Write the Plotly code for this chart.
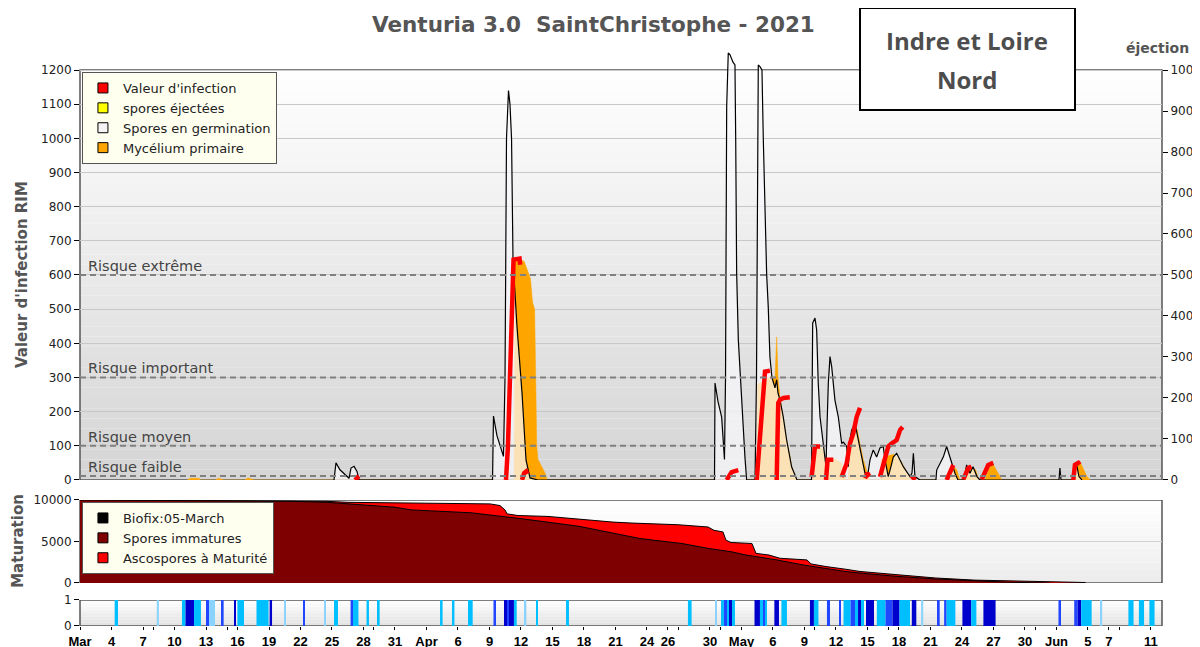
import pandas as pd
import plotly.graph_objects as go

START = pd.Timestamp("2021-03-01")

# ---- RIM panel: x = days after 1 March ----
germ_day = [24.19, 24.38, 24.76, 25.33, 25.62, 25.81, 26.10, 26.38, 26.57,
            39.29, 39.38, 39.71, 40.10, 40.33, 40.48, 40.62, 40.81, 40.95, 41.10, 41.24,
            41.62, 42.10, 42.48, 42.86, 43.62,
            60.43, 60.48, 60.76, 61.11, 61.24, 61.38, 61.48, 61.59, 61.74, 61.90, 62.19,
            62.38, 62.45, 62.54, 62.70, 63.02, 63.33, 63.49,
            64.29, 64.43, 64.52, 64.60, 64.76, 64.95, 65.08, 65.24, 65.40, 65.55, 65.71,
            65.90, 66.19, 66.35, 66.48, 66.67, 66.98, 67.30, 67.62, 67.78, 68.29,
            69.67, 69.78, 70.00, 70.16, 70.31, 70.48, 70.79, 71.05, 71.14, 71.27, 71.43,
            71.59, 71.90, 72.22, 72.54, 72.70, 73.02, 73.17, 73.33, 73.49, 73.81, 74.12,
            74.45, 74.76, 75.05, 75.24, 75.55, 75.87, 76.19, 76.50, 76.67, 76.98, 77.24,
            77.46, 77.78, 78.10, 78.41, 79.05, 79.24, 79.37, 79.52, 80.00,
            81.52, 81.59, 82.22, 82.54, 82.86, 83.33, 83.62,
            84.19, 84.44, 84.76, 85.05, 85.43, 85.71,
            93.24, 93.33, 93.43, 94.67, 94.76, 94.95, 95.14, 95.43]
germ_val = [0, 50, 30, 12, 5, 35, 40, 25, 0,
            0, 187, 130, 90, 69, 300, 1000, 1140, 1100, 1000, 644,
            449, 254, 58, 6, 0,
            0, 284, 230, 184, 117, 60, 300, 1092, 1250, 1245, 1223,
            1215, 995, 606, 410, 214, 67, 0,
            0, 300, 1000, 1215, 1210, 1200, 995, 800, 600, 506, 360,
            300, 270, 293, 254, 234, 184, 117, 70, 38, 0,
            0, 459, 474, 439, 283, 185, 98, 39, 150, 283, 361,
            332, 234, 185, 107, 111, 98, 39, 117, 146, 166, 117,
            67, 20, 20, 59, 88, 67, 94, 98, 59, 10, 40,
            67, 78, 59, 39, 10, 20, 78, 10, 0,
            0, 29, 67, 98, 67, 20, 0,
            0, 44, 20, 39, 10, 0,
            0, 35, 0, 0, 50, 40, 10, 0]

myc_day = [10.2, 10.5, 11.3, 11.5, 12.9, 13.2, 13.7, 15.7, 16.0, 16.6,
           41.35, 41.43, 41.62, 41.75, 41.90, 42.30, 42.90, 43.10, 43.30, 43.40, 43.50,
           43.62, 44.30, 44.50,
           64.48, 64.52, 65.70, 66.20, 66.35, 66.48, 66.67, 66.98, 67.30, 67.62, 67.78, 68.29,
           69.70, 69.80, 70.40, 70.80, 71.05, 71.10, 72.00, 72.50, 72.80, 73.00,
           73.17, 73.20, 73.49, 74.00, 74.60, 75.10, 75.20,
           76.20, 76.30, 76.90, 77.50, 78.20, 78.60, 79.00, 79.10,
           82.90, 83.20, 83.50, 83.80, 84.20, 84.80, 85.30, 85.60,
           86.20, 86.50, 86.90, 87.40, 87.80, 94.55, 94.80, 95.30, 95.90, 96.20]
myc_val = [0, 5, 5, 0, 0, 5, 0, 0, 6, 0,
           0, 640, 650, 630, 645, 640, 590, 520, 500, 300, 100,
           60, 20, 0,
           0, 280, 300, 300, 419, 300, 240, 184, 117, 70, 38, 0,
           0, 95, 100, 90, 30, 60, 60, 50, 20, 0,
           0, 39, 140, 150, 60, 5, 0,
           0, 60, 70, 75, 55, 30, 5, 0,
           0, 40, 30, 0, 0, 40, 30, 0,
           0, 30, 50, 20, 0, 0, 45, 50, 10, 0]

inf_day = [26.2, 26.4, 26.55, None,
           40.57, 40.76, 40.95, 41.14, 41.29, 41.86, 41.92, None,
           42.1, 42.3, 42.5, 42.62, None,
           61.59, 62.06, 62.70, None,
           64.45, 64.60, 64.90, 65.08, 65.24, 65.71, None,
           66.35, 66.45, 66.50, 66.67, 67.00, 67.60, None,
           69.68, 70.00, 70.48, None,
           71.05, 71.20, 71.75, None,
           72.54, 73.02, 73.33, 73.65, 73.97, 74.29, None,
           74.76, 75.00, 75.20, None,
           76.19, 76.67, 76.98, 77.30, 77.78, 78.10, 78.35, None,
           79.20, 79.55, None,
           82.54, 83.00, 83.17, None,
           84.13, 84.60, 84.90, None,
           85.88, 86.50, 86.98, None,
           94.60, 94.76, 95.08, 95.20]
inf_val = [0, 10, 12, None,
           0, 100, 300, 500, 645, 648, 630, None,
           0, 20, 25, 18, None,
           0, 23, 29, None,
           0, 60, 200, 283, 317, 320, None,
           0, 150, 225, 235, 240, 242, None,
           9, 98, 98, None,
           0, 59, 59, None,
           9, 49, 107, 137, 185, 211, None,
           5, 20, 10, None,
           9, 59, 98, 107, 117, 146, 155, None,
           12, 0, None,
           0, 39, 44, None,
           2, 35, 39, None,
           2, 44, 50, None,
           0, 44, 50, 45]

risk_levels = [600, 300, 100, 12]
risk_labels = ["Risque extrême", "Risque important", "Risque moyen", "Risque faible"]

# ---- maturation panel ----
total_day = [0, 23.52, 25.52, 34.76, 38.10, 39.05, 40.00, 40.48, 40.67, 41.71, 44.57,
             46.95, 48.95, 50.76, 52.57, 54.00, 56.95, 59.81, 60.38, 61.24, 61.52, 62.00,
             64.00, 64.38, 65.62, 66.67, 69.24, 69.62, 71.05, 72.86, 74.29, 77.90, 81.52,
             85.14, 86.67, 88.76, 92.38, 95.71, 95.80]
total_val = [10000, 9840, 9720, 9640, 9600, 9530, 9330, 8800, 8330, 8130, 8020,
             7740, 7540, 7340, 7220, 7140, 7020, 6750, 6350, 6150, 5160, 4880,
             4760, 3570, 3370, 2980, 2780, 2300, 1980, 1670, 1390, 990, 600,
             350, 320, 200, 120, 60, 0]
immat_day = [0, 20.29, 23.52, 25.71, 27.90, 30.00, 31.52, 34.76, 37.24, 38.10, 39.05,
             40.00, 41.71, 43.52, 45.71, 47.52, 49.33, 50.76, 53.33, 55.14, 57.33, 59.81,
             62.00, 63.43, 64.57, 66.38, 68.86, 70.67, 72.86, 75.05, 77.90, 81.52, 85.14,
             88.76, 92.38]
immat_val = [10000, 9840, 9720, 9530, 9330, 9130, 8810, 8660, 8460, 8330, 8220,
             8050, 7800, 7460, 7140, 6830, 6350, 6030, 5360, 5080, 4760, 4170,
             3770, 3370, 3170, 2780, 2180, 1790, 1390, 1110, 790, 480, 240,
             80, 0]

# ---- wetness periods (start, end in days, intensity 0..3) ----
wet_start = [3.30, 7.31, 9.71, 10.05, 10.86, 12.00, 12.29, 13.52, 14.67, 14.99, 16.81,
             18.06, 19.43, 21.24, 23.33, 24.19, 25.77, 26.00, 27.29, 28.38, 34.29, 35.43,
             36.95, 39.38, 40.38, 40.67, 40.86, 41.33, 42.34, 43.43, 46.29,
             57.90, 60.48, 61.05, 61.33, 61.62, 61.81, 62.10, 64.24, 64.76, 65.05, 65.24,
             66.13, 66.80, 69.52, 69.90, 71.14, 72.29, 72.72, 73.39, 73.81, 74.10, 74.38,
             74.86, 75.89, 76.72, 77.38, 78.05, 79.22, 80.11, 81.71, 82.30, 82.54, 84.04,
             84.87, 86.04, 93.19, 94.69, 95.02, 95.35, 97.18, 99.85, 100.85, 101.85]
wet_end = [3.62, 7.51, 10.05, 10.86, 11.52, 12.29, 12.86, 13.68, 14.83, 15.62, 17.96,
           18.29, 19.62, 21.43, 23.43, 24.57, 26.00, 26.52, 27.52, 28.54, 34.53, 35.66,
           37.40, 39.62, 40.67, 40.86, 41.33, 41.59, 42.51, 43.62, 46.57,
           58.25, 60.61, 61.33, 61.62, 61.81, 62.10, 62.38, 64.76, 65.05, 65.24, 65.43,
           66.57, 67.33, 69.90, 70.33, 71.43, 72.48, 73.39, 73.81, 74.10, 74.38, 74.67,
           75.62, 76.72, 77.38, 78.05, 79.05, 79.65, 80.31, 81.88, 82.54, 83.37, 84.87,
           85.37, 87.20, 93.43, 95.02, 95.35, 96.35, 97.35, 100.34, 101.34, 102.34]
wet_level = [1, 0, 1, 3, 1, 2, 0, 2, 3, 1, 1,
             3, 0, 2, 0, 1, 2, 1, 1, 1, 1, 1,
             1, 2, 3, 2, 3, 1, 0, 1, 1,
             1, 0, 1, 2, 1, 3, 1, 3, 1, 2, 1,
             3, 1, 3, 1, 2, 2, 1, 2, 1, 3, 1,
             3, 1, 2, 3, 1, 3, 0, 2, 2, 1, 3,
             1, 3, 2, 2, 3, 1, 0, 1, 1, 1]

tick_dates = ["2021-03-01", "2021-03-04", "2021-03-07", "2021-03-10", "2021-03-13",
              "2021-03-16", "2021-03-19", "2021-03-22", "2021-03-25", "2021-03-28",
              "2021-03-31", "2021-04-03", "2021-04-06", "2021-04-09", "2021-04-12",
              "2021-04-15", "2021-04-18", "2021-04-21", "2021-04-24", "2021-04-26",
              "2021-04-30", "2021-05-03", "2021-05-06", "2021-05-09", "2021-05-12",
              "2021-05-15", "2021-05-18", "2021-05-21", "2021-05-24", "2021-05-27",
              "2021-05-30", "2021-06-02", "2021-06-05", "2021-06-07", "2021-06-11"]
tick_text = ["Mar", "4", "7", "10", "13", "16", "19", "22", "25", "28", "31", "Apr",
             "6", "9", "12", "15", "18", "21", "24", "26", "30", "May", "6", "9", "12",
             "15", "18", "21", "24", "27", "30", "Jun", "5", "7", "11"]
minor_dates = ["2021-03-08", "2021-03-15", "2021-03-29", "2021-04-27", "2021-05-01",
               "2021-05-10", "2021-05-17", "2021-05-31", "2021-06-08"]


def to_dates(days):
    return [None if d is None else START + pd.Timedelta(days=d) for d in days]


FONT = "Liberation Sans, Arial, sans-serif"
DV = "DejaVu Sans"
fig = go.Figure()

# RIM panel
fig.add_trace(go.Scatter(x=to_dates(myc_day), y=myc_val, mode="lines", fill="tozeroy",
                         fillcolor="#FFA500", line=dict(color="#FFA500", width=0.5),
                         showlegend=False, hoverinfo="skip"))
fig.add_trace(go.Scatter(x=to_dates(germ_day), y=germ_val, mode="lines", fill="tozeroy",
                         fillcolor="rgba(248,248,252,0.72)",
                         line=dict(color="black", width=1.2), showlegend=False))
fig.add_trace(go.Scatter(x=to_dates(inf_day), y=inf_val, mode="lines",
                         line=dict(color="#FF0000", width=4.5), connectgaps=False,
                         showlegend=False))
fig.add_trace(go.Scatter(x=[None], y=[None], yaxis="y2", showlegend=False))

legend1 = [("Valeur d'infection", "#FF0000"), ("spores éjectées", "#FFFF00"),
           ("Spores en germination", "#F4F4F4"), ("Mycélium primaire", "#FFA500")]
for name, col in legend1:
    fig.add_trace(go.Scatter(x=[None], y=[None], mode="markers", name=name, legend="legend",
                             marker=dict(symbol="square", size=10, color=col,
                                         line=dict(color="black", width=1))))

# maturation panel
fig.add_trace(go.Scatter(x=to_dates(total_day), y=total_val, mode="lines", fill="tozeroy",
                         fillcolor="#FF0000", line=dict(color="black", width=1),
                         yaxis="y3", showlegend=False))
fig.add_trace(go.Scatter(x=to_dates(immat_day), y=immat_val, mode="lines", fill="tozeroy",
                         fillcolor="#7F0000", line=dict(color="black", width=1),
                         yaxis="y3", showlegend=False))
legend2 = [("Biofix:05-March", "#000000"), ("Spores immatures", "#7F0000"),
           ("Ascospores à Maturité", "#FF0000")]
for name, col in legend2:
    fig.add_trace(go.Scatter(x=[None], y=[None], mode="markers", name=name, legend="legend2",
                             yaxis="y3",
                             marker=dict(symbol="square", size=10, color=col,
                                         line=dict(color="black", width=1))))

# wetness panel
level_colors = {0: "#8AD3FF", 1: "#00BFFF", 2: "#2046FF", 3: "#0000CD"}
centers = [START + pd.Timedelta(days=(s + e) / 2) for s, e in zip(wet_start, wet_end)]
widths = [(e - s) * 86400000 for s, e in zip(wet_start, wet_end)]
fig.add_trace(go.Bar(x=centers, y=[1] * len(centers), width=widths,
                     marker=dict(color=[level_colors[l] for l in wet_level], line_width=0),
                     yaxis="y4", showlegend=False))

# background gradients and frames
shapes = []


def gradient(yref, y0, y1, top, bottom, n):
    for i in range(n):
        t = (i + 0.5) / n
        c = int(round(bottom + (top - bottom) * t))
        shapes.append(dict(type="rect", xref="x domain", yref=yref, x0=0, x1=1,
                           y0=y0 + (y1 - y0) * i / n, y1=y0 + (y1 - y0) * (i + 1) / n,
                           fillcolor=f"rgb({c},{c},{c})", line_width=0, layer="below"))


gradient("y", 0, 1200, 255, 212, 40)
gradient("y3", 0, 10000, 255, 236, 12)
gradient("y4", 0, 1, 255, 225, 8)
for yref, y1 in [("y", 1200), ("y3", 10000), ("y4", 1)]:
    shapes.append(dict(type="rect", xref="x domain", yref=yref, x0=0, x1=1, y0=0, y1=y1,
                       line=dict(color="#555555", width=1.5), layer="below"))
for lvl in risk_levels:
    shapes.append(dict(type="line", xref="x domain", yref="y", x0=0, x1=1, y0=lvl, y1=lvl,
                       line=dict(color="#808080", width=2, dash="6px,4px"), layer="above"))
# location box
shapes.append(dict(type="rect", xref="paper", yref="paper", x0=0.7209, x1=0.9196,
                   y0=0.8805, y1=1.0546, fillcolor="white",
                   line=dict(color="black", width=2), layer="above"))


def note(text, x, y, size, color="#555555", family=DV, **kw):
    return dict(text=text, xref="paper", yref="paper", x=x, y=y, showarrow=False,
                xanchor="center", yanchor="middle",
                font=dict(family=family, size=size, color=color, weight="bold"), **kw)


annotations = [
    note("Venturia 3.0\u00a0\u00a0SaintChristophe - 2021", 0.475, 1.0256, 21.5),
    note("Indre et Loire", 0.8202, 0.9983, 24, "#4D4D4D", "Open Sans"),
    note("Nord", 0.8202, 0.9334, 24, "#4D4D4D", "Open Sans"),
    note("éjection", 0.9954, 0.9863, 14),
    note("Valeur d'infection RIM", -0.0536, 0.599, 15, textangle=-90),
    note("Maturation", -0.0575, 0.145, 15, textangle=-90),
]
for lvl, lab in zip(risk_levels, risk_labels):
    annotations.append(dict(text=lab, xref="x domain", yref="y", x=0.006, y=lvl,
                            xanchor="left", yanchor="bottom", yshift=-1, showarrow=False,
                            font=dict(family=DV, size=14.5, color="#444444")))

tick_common = dict(ticks="outside", ticklen=5, tickcolor="black", zeroline=False,
                   showline=False, automargin=False,
                   tickfont=dict(family=DV, size=12, color="#222222"))

# the page body adds an 8px margin, so margins are shifted by 8px here
fig.update_layout(
    width=1200, height=647, autosize=False,
    margin=dict(l=72, r=46, t=32, b=29),
    paper_bgcolor="white", plot_bgcolor="rgba(0,0,0,0)",
    font=dict(family=DV),
    barmode="overlay",
    showlegend=True,
    shapes=shapes, annotations=annotations,
    xaxis=dict(type="date", anchor="y4", automargin=False,
               range=[START, START + pd.Timedelta(days=103.05)],
               tickvals=tick_dates, ticktext=tick_text, ticks="outside", ticklen=3,
               tickcolor="black", showgrid=False, zeroline=False, showline=False,
               tickfont=dict(family=FONT, size=13, color="black", weight="bold"),
               minor=dict(tickvals=minor_dates, ticks="outside", ticklen=3,
                          tickcolor="black", showgrid=False)),
    yaxis=dict(domain=[0.24915, 0.98669], range=[0, 1265], anchor="x",
               tickvals=list(range(0, 1300, 100)), showgrid=True, gridcolor="#C8C8C8",
               **tick_common),
    yaxis2=dict(overlaying="y", side="right", anchor="x", range=[0, 1265 / 1.2],
                tickvals=list(range(0, 1100, 100)), showgrid=False, **tick_common),
    yaxis3=dict(domain=[0.07338, 0.21502], range=[0, 10000], anchor="x",
                tickvals=[0, 5000, 10000], ticktext=["0", "5000", "10000"],
                showgrid=True, gridcolor="#D0D0D0", **tick_common),
    yaxis4=dict(domain=[0, 0.04437], range=[0, 1], anchor="x", tickvals=[0, 1],
                showgrid=False, **tick_common),
    legend=dict(x=0.0018, y=0.9454, xanchor="left", yanchor="top", bgcolor="#FFFFF0",
                bordercolor="#555555", borderwidth=1, tracegroupgap=0,
                font=dict(family=DV, size=13, color="#222222")),
    legend2=dict(x=0.0018, y=0.2116, xanchor="left", yanchor="top", bgcolor="#FFFFF0",
                 bordercolor="#555555", borderwidth=1, tracegroupgap=0,
                 font=dict(family=DV, size=13, color="#222222")),
)

fig.write_html("out.html", config={"displayModeBar": False, "responsive": False})
